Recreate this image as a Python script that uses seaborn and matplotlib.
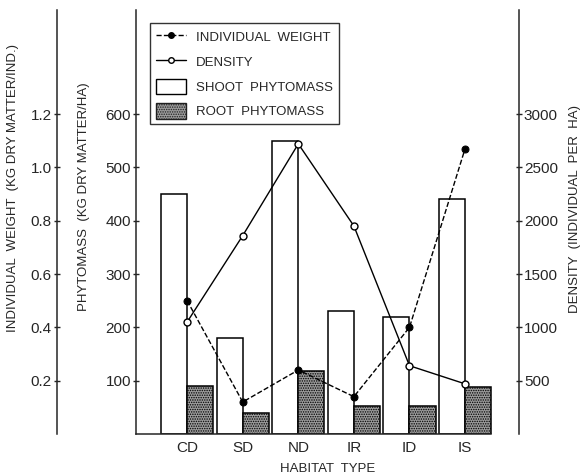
import matplotlib
matplotlib.use('Agg')
import matplotlib.pyplot as plt
import seaborn as sns
import pandas as pd
import numpy as np
from matplotlib.lines import Line2D
from matplotlib.patches import Patch

habitats = ['CD', 'SD', 'ND', 'IR', 'ID', 'IS']
shoot_phytomass = [450, 180, 550, 230, 220, 440]
root_phytomass = [90, 40, 118, 52, 52, 88]
individual_weight = [0.50, 0.12, 0.24, 0.14, 0.40, 1.07]
density = [1050, 1860, 2720, 1950, 640, 470]

sns.set_style('white')
plt.rcParams['font.family'] = ['Liberation Sans', 'DejaVu Sans']
plt.rcParams['hatch.linewidth'] = 0.7
plt.rcParams['hatch.color'] = '#202020'

fs = 9.5     # axis labels, legend
tfs = 11     # tick labels
root_color = '#9c9c9c'

bars = pd.DataFrame({
    'habitat': habitats * 2,
    'part': ['shoot'] * len(habitats) + ['root'] * len(habitats),
    'mass': shoot_phytomass + root_phytomass,
})

fig = plt.figure(figsize=(5.86, 4.76), dpi=100)
ax = fig.add_axes([136 / 586, 1 - 434 / 476, 383 / 586, 424 / 476])

sns.barplot(data=bars, x='habitat', y='mass', hue='part', order=habitats,
            hue_order=['shoot', 'root'], palette=['white', root_color],
            width=0.94, gap=0, edgecolor='black', linewidth=1.1,
            saturation=1, legend=False, ax=ax)
for p in ax.patches[len(habitats):2 * len(habitats)]:
    p.set_hatch('.......')

ymax = 795
ax.set_ylim(0, ymax)
ax.set_xlim(-0.92, 5.97)
ax.set_yticks([100, 200, 300, 400, 500, 600])
ax.set_ylabel('PHYTOMASS  (KG DRY MATTER/HA)', fontsize=fs)
ax.yaxis.set_label_coords(-0.12, 0.56)
ax.set_xlabel('HABITAT  TYPE', fontsize=fs, labelpad=6)
ax.tick_params(axis='x', length=0, pad=5, labelsize=tfs)
ax.tick_params(axis='y', direction='inout', length=5, width=1, labelsize=tfs, pad=1)
ax.spines['top'].set_visible(False)
ax.spines['right'].set_visible(False)
ax.spines['left'].set_linewidth(1.1)
ax.spines['bottom'].set_linewidth(1.1)
ax.spines['bottom'].set_bounds(-0.92, 5.47)

xpos = np.arange(len(habitats))

# density axis on the right
ax2 = ax.twinx()
sns.lineplot(x=xpos, y=density, ax=ax2, color='black', linewidth=1,
             marker='o', markersize=5, markerfacecolor='white',
             markeredgecolor='black', markeredgewidth=1)
ax2.set_ylim(0, ymax * 5)
ax2.set_yticks([500, 1000, 1500, 2000, 2500, 3000])
ax2.set_ylabel('DENSITY  (INDIVIDUAL  PER  HA)', fontsize=fs)
ax2.yaxis.set_label_coords(1.13, 0.53)
ax2.tick_params(axis='y', direction='inout', length=5, width=1, labelsize=tfs, pad=1)
for s in ['top', 'bottom', 'left']:
    ax2.spines[s].set_visible(False)
ax2.spines['right'].set_linewidth(1.1)

# individual weight axis, outer left
ax3 = ax.twinx()
sns.lineplot(x=xpos, y=individual_weight, ax=ax3, color='black', linewidth=1,
             linestyle='--', marker='o', markersize=5, markerfacecolor='black',
             markeredgecolor='black')
ax3.set_ylim(0, ymax / 500)
ax3.set_yticks([0.2, 0.4, 0.6, 0.8, 1.0, 1.2])
ax3.set_yticklabels(['0.2', '0.4', '0.6', '0.8', '1.0', '1.2'])
ax3.spines['left'].set_position(('outward', 57))
ax3.spines['left'].set_visible(True)
ax3.spines['left'].set_linewidth(1.1)
for s in ['top', 'bottom', 'right']:
    ax3.spines[s].set_visible(False)
ax3.yaxis.set_ticks_position('left')
ax3.yaxis.set_label_position('left')
ax3.set_ylabel('INDIVIDUAL  WEIGHT  (KG DRY MATTER/IND.)', fontsize=fs)
ax3.yaxis.set_label_coords(-0.305, 0.58)
ax3.tick_params(axis='y', direction='inout', length=5, width=1, labelsize=tfs, pad=1)
ax3.set_xlim(-0.92, 5.97)

handles = [
    Line2D([], [], color='black', linestyle='--', linewidth=1, marker='o',
           markersize=4, markerfacecolor='black'),
    Line2D([], [], color='black', linestyle='-', linewidth=1, marker='o',
           markersize=4, markerfacecolor='white'),
    Patch(facecolor='white', edgecolor='black', linewidth=1),
    Patch(facecolor=root_color, edgecolor='#202020', hatch='.......', linewidth=1),
]
labels = ['INDIVIDUAL  WEIGHT', 'DENSITY', 'SHOOT  PHYTOMASS', 'ROOT  PHYTOMASS']
leg = ax3.legend(handles, labels, loc='upper left', bbox_to_anchor=(0.037, 0.969),
                 borderaxespad=0, fancybox=False, frameon=True, fontsize=fs,
                 handlelength=2.3, handleheight=1.4, handletextpad=0.7,
                 labelspacing=0.72, borderpad=0.45)
leg.get_frame().set_edgecolor('black')
leg.get_frame().set_linewidth(1)

fig.savefig('out.png', dpi=100)
